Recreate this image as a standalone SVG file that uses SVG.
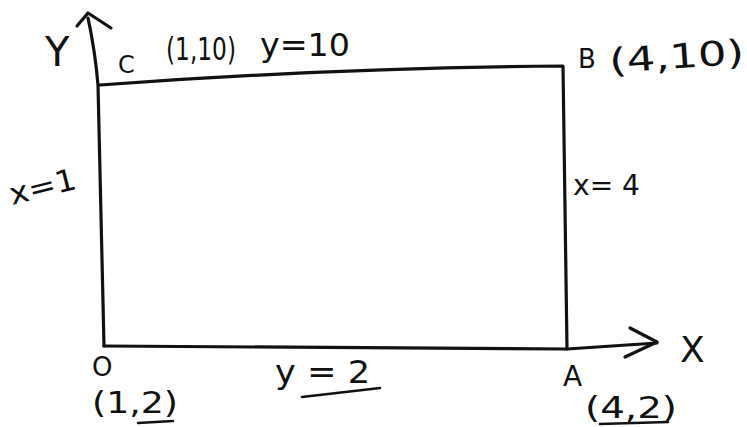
<svg xmlns="http://www.w3.org/2000/svg" width="747" height="427" viewBox="0 0 747 427">
<style>
.ln{fill:none;stroke:#111;stroke-width:3.2;stroke-linecap:round;stroke-linejoin:round}
.ul{fill:none;stroke:#111;stroke-width:2.6;stroke-linecap:round}
.t{font-family:"DejaVu Sans","Liberation Sans",sans-serif;fill:#111}
</style>
<rect width="747" height="427" fill="#fff"/>
<g id="axes">
<path class="ln" d="M88,18 Q95,50 98,85 L104,346"/>
<path class="ln" d="M77,26 L88,13 L111,28"/>
<path class="ln" d="M104,346 L567,349 L657,343"/>
<path class="ln" d="M630,328 L657,342 L625,357"/>
</g>
<g id="rectangle">
<path class="ln" d="M100,85 Q330,68 563,66 L567,349"/>
</g>
<g id="labels">
<text class="t" x="45" y="66" font-size="40">Y</text>
<text class="t" x="680" y="362" font-size="36">X</text>
<text class="t" x="118" y="73" font-size="24">C</text>
<text class="t" x="166" y="60" font-size="32" textLength="70" lengthAdjust="spacingAndGlyphs">(1,10)</text>
<text class="t" x="260" y="56" font-size="32" textLength="90" lengthAdjust="spacingAndGlyphs">y=10</text>
<text class="t" x="578" y="68" font-size="26">B</text>
<text class="t" x="610" y="73" font-size="34" textLength="135" lengthAdjust="spacingAndGlyphs" transform="rotate(-4 610 73)">(4,10)</text>
<text class="t" x="12" y="205" font-size="30" textLength="68" lengthAdjust="spacingAndGlyphs" transform="rotate(-14 12 205)">x=1</text>
<text class="t" x="573" y="195" font-size="28" textLength="67" lengthAdjust="spacingAndGlyphs">x= 4</text>
<text class="t" x="92" y="376" font-size="26">O</text>
<text class="t" x="92" y="413" font-size="30" textLength="86" lengthAdjust="spacingAndGlyphs">(1,2)</text>
<path class="ul" d="M138,423 L173,421"/>
<text class="t" x="275" y="383" font-size="32" textLength="95" lengthAdjust="spacingAndGlyphs">y = 2</text>
<path class="ul" d="M302,397 L380,388"/>
<text class="t" x="563" y="386" font-size="28">A</text>
<text class="t" x="585" y="418" font-size="30" textLength="92" lengthAdjust="spacingAndGlyphs">(4,2)</text>
<path class="ul" d="M600,424 L668,422"/>
</g>
</svg>
